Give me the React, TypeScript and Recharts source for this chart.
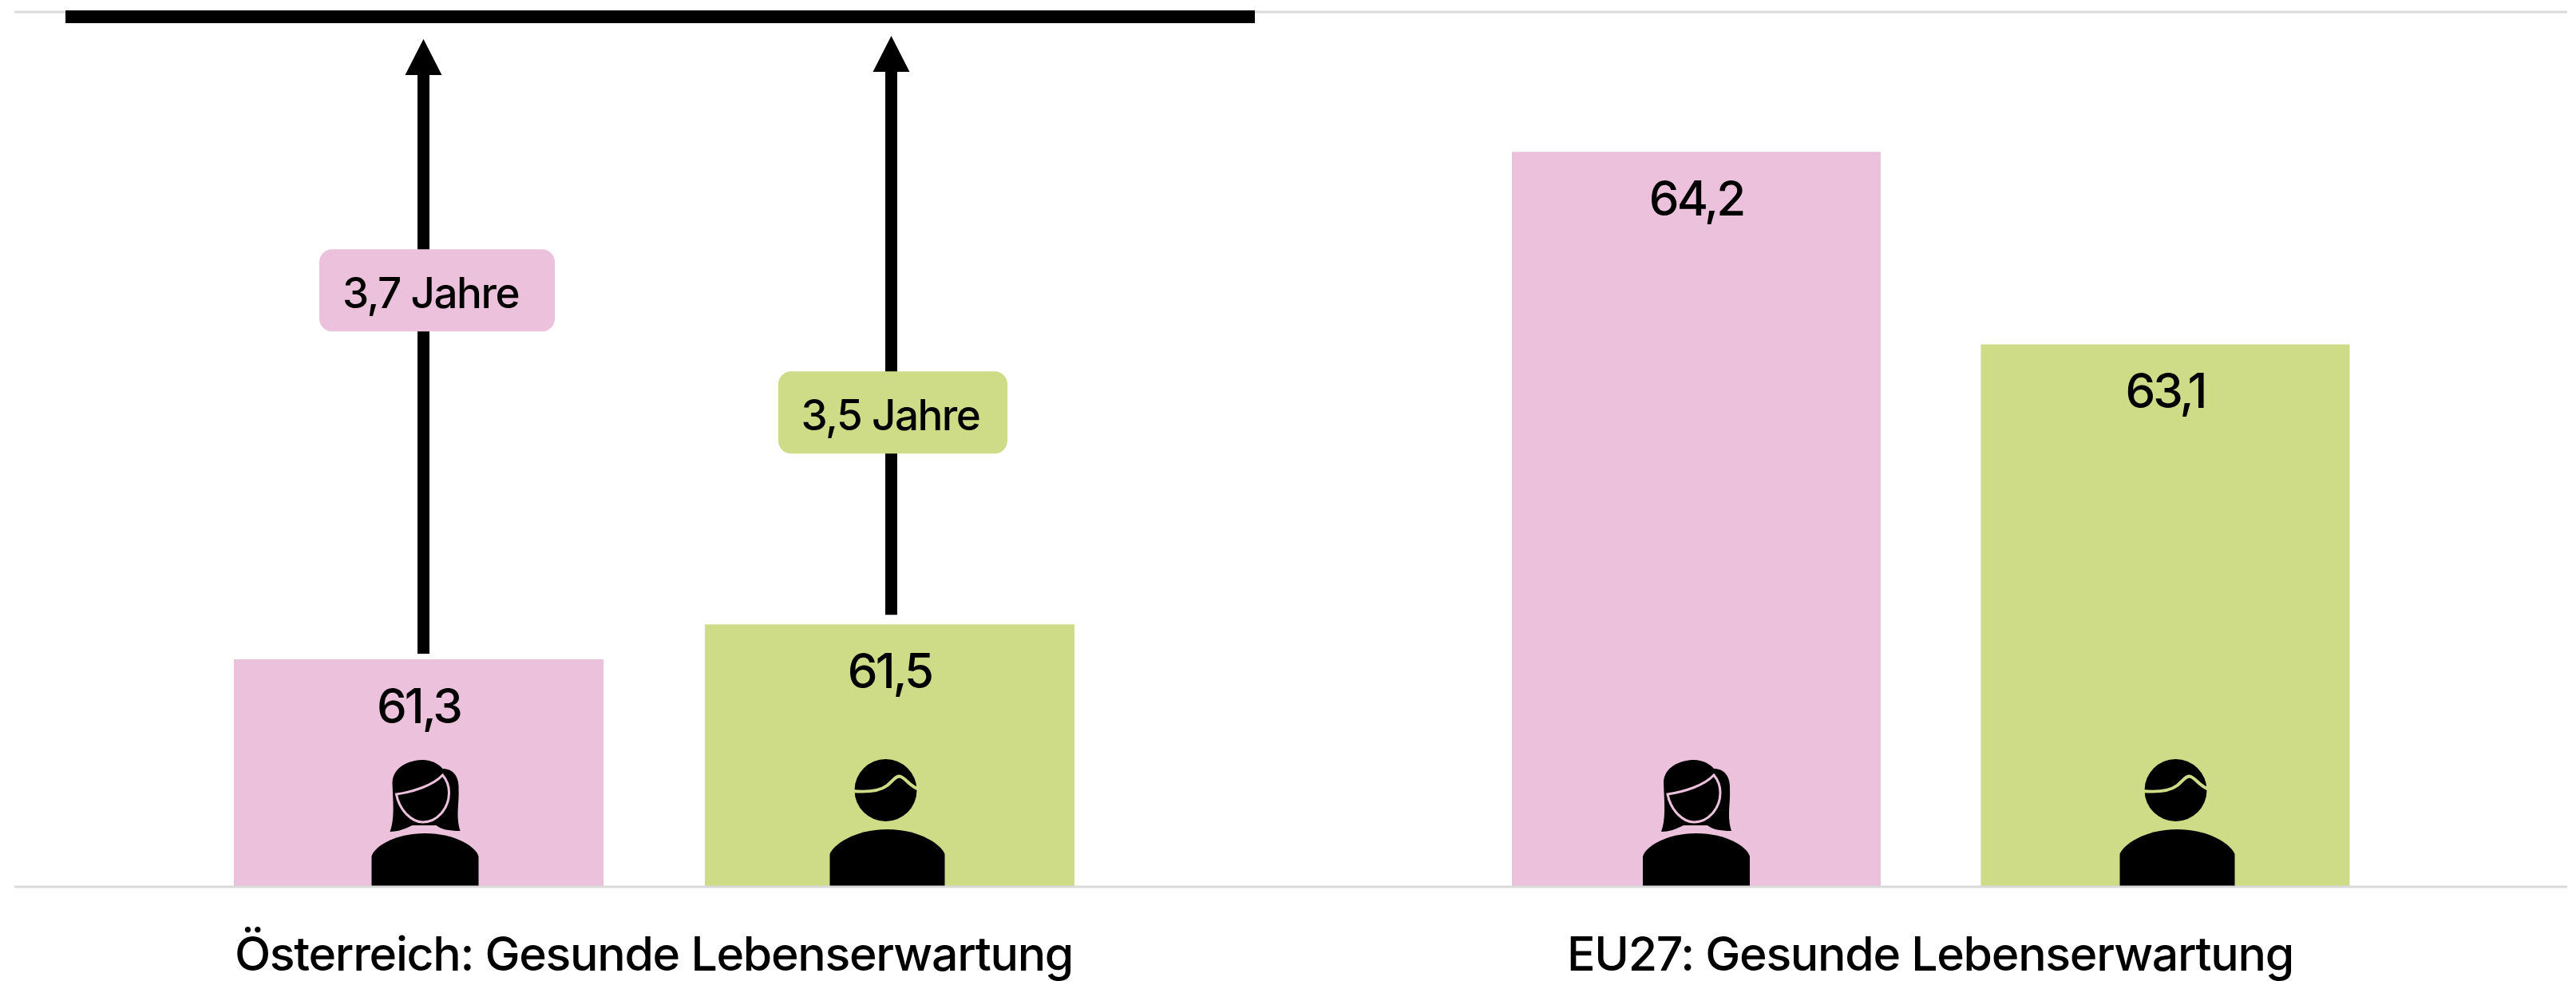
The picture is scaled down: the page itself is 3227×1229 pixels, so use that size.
import { BarChart, Bar, XAxis, YAxis, ReferenceLine, LabelList, Label, Rectangle } from 'recharts';

const austriaGroups = ['Frauen', 'Männer'];
const austriaValues = [61.3, 61.5];
const austriaGap = [3.7, 3.5];
const austriaGapLabels = ['3,7 Jahre', '3,5 Jahre'];
const euGroups = ['Frauen', 'Männer'];
const euValues = [64.2, 63.1];
const yDomain = [60, 65];
const TARGET = 65;

const PINK = '#EBC1DC';
const GREEN = '#CEDC88';
const GRID = '#DADADA';
const FONT = 'Inter, sans-serif';
const BAR_COLORS = [PINK, GREEN];

// icons and arrows are not quite centred on the bars in the original
const AUSTRIA_ICON_SHIFT = [8, -3];
const EU_ICON_SHIFT = [0, 15];
const ARROW_SHIFT = [6, 2];
const PILL_SHIFT = [23, 4];
const PILL_TEXT_SHIFT = [-8, -3];
const PILL_AT = [0.43, 0.654];
const PILL_SIZE = [[295, 103], [287, 103]];
const ARROW_TIP = [34, 30];
const ARROW_FOOT = [7, 12];

const austriaData = austriaGroups.map((group, i) => ({
  group,
  value: austriaValues[i],
  gap: austriaGap[i],
}));
const euData = euGroups.map((group, i) => ({ group, value: euValues[i] }));

const fmt = (v: any) => String(v).replace('.', ',');

function Woman({ x, y, line }: { x: number; y: number; line: string }) {
  return (
    <g transform={`translate(${x},${y})`}>
      <path d="M-67 0V-38C-64-50-38-67 0-67C38-67 64-50 67-38V0Z" fill="#000" />
      <path
        d="M-44-69C-38-85-40-105-41-130C-41-150-20-159-3-159C8-159 17-154 22-148C35-148 43-138 42-122C43-105 38-88 44-70C30-70 20-72 14-77H-16C-26-72-34-69-44-69Z"
        fill="#000"
      />
      <path
        d="M-36-116C-32-95-16-81-3-81C15-81 30-98 30-118C30-128 27-134 22-140C10-127-15-119-36-116Z"
        fill="#000"
        stroke={line}
        strokeWidth={3}
      />
    </g>
  );
}

function Man({ x, y, line }: { x: number; y: number; line: string }) {
  return (
    <g transform={`translate(${x},${y})`}>
      <path d="M-72 0V-41C-68-52-42-72 0-72C42-72 68-52 72-41V0Z" fill="#000" />
      <circle cx={-2} cy={-121} r={39} fill="#000" />
      <path
        d="M-44-120C-22-118-8-121 0-127C8-134 12-140 17-138C24-135 28-126 40-122"
        fill="none"
        stroke={line}
        strokeWidth={4}
      />
    </g>
  );
}

function makeBarShape(shifts: number[]) {
  return function BarShape(props: any) {
    const { x, y, width, height, index } = props;
    const Icon = index === 0 ? Woman : Man;
    return (
      <g>
        <Rectangle x={x} y={y} width={width} height={height} fill={BAR_COLORS[index]} />
        <Icon x={x + width / 2 + shifts[index]} y={y + height} line={BAR_COLORS[index]} />
      </g>
    );
  };
}

function GapShape(props: any) {
  const { x, y, width, height, index } = props;
  const cx = x + width / 2 + ARROW_SHIFT[index];
  const tip = y + ARROW_TIP[index];
  const foot = y + height - ARROW_FOOT[index];
  const [pw, ph] = PILL_SIZE[index];
  const pillX = x + width / 2 + PILL_SHIFT[index] - pw / 2;
  const pillY = y + height * PILL_AT[index] - ph / 2;
  return (
    <g>
      <path d={`M${cx - 7.5} ${foot}V${tip + 45}H${cx - 23}L${cx} ${tip}L${cx + 23} ${tip + 45}H${cx + 7.5}V${foot}Z`} fill="#000" />
      <rect x={pillX} y={pillY} width={pw} height={ph} rx={16} fill={BAR_COLORS[index]} />
      <text
        x={pillX + pw / 2 + PILL_TEXT_SHIFT[index]}
        y={pillY + ph / 2 + 3}
        textAnchor="middle"
        dominantBaseline="central"
        fontFamily={FONT}
        fontWeight={500}
        letterSpacing={-1.5}
        fontSize={53}
        fill="#000"
      >
        {austriaGapLabels[index]}
      </text>
    </g>
  );
}

function TargetLine(props: any) {
  const { x1, x2, y1 } = props;
  return <line x1={x1 + 64} x2={x2 - 48} y1={y1 + 6} y2={y1 + 6} stroke="#000" strokeWidth={16} />;
}

const labelStyle = { fontFamily: FONT, fontSize: 59, fontWeight: 500, letterSpacing: -1.3, fill: '#000' };
const valueStyle = { fontFamily: FONT, fontSize: 60, fontWeight: 500, letterSpacing: -3, fill: '#000' };

export default function App() {
  return (
    <div style={{ position: 'absolute', left: 0, top: 0, width: 3227, height: 1229, background: '#fff' }}>
      <div style={{ position: 'absolute', left: 0, top: 0 }}>
        <BarChart width={1620} height={1229} data={austriaData} margin={{ top: 15, right: 0, bottom: 0, left: 18 }}>
          <XAxis
            dataKey="group"
            padding={{ left: 211, right: 211 }}
            height={118}
            tick={false}
            tickLine={false}
            axisLine={false}
          >
            <Label value="Österreich: Gesunde Lebenserwartung" position="insideBottom" offset={13} style={labelStyle} />
          </XAxis>
          <YAxis hide domain={yDomain} allowDataOverflow />
          <ReferenceLine y={60} stroke={GRID} strokeWidth={3} />
          <ReferenceLine y={TARGET} stroke={GRID} strokeWidth={3} />
          <Bar dataKey="value" stackId="a" barSize={463} isAnimationActive={false} shape={makeBarShape(AUSTRIA_ICON_SHIFT)}>
            <LabelList dataKey="value" position="insideTop" offset={37} formatter={fmt} style={valueStyle} />
          </Bar>
          <Bar dataKey="gap" stackId="a" barSize={463} isAnimationActive={false} shape={GapShape} />
          <ReferenceLine y={TARGET} shape={TargetLine} />
        </BarChart>
      </div>
      <div style={{ position: 'absolute', left: 1620, top: 0 }}>
        <BarChart width={1607} height={1229} data={euData} margin={{ top: 15, right: 11, bottom: 0, left: 0 }}>
          <XAxis
            dataKey="group"
            padding={{ left: 211, right: 210 }}
            height={118}
            tick={false}
            tickLine={false}
            axisLine={false}
          >
            <Label value="EU27: Gesunde Lebenserwartung" position="insideBottom" offset={13} style={labelStyle} />
          </XAxis>
          <YAxis hide domain={yDomain} allowDataOverflow />
          <ReferenceLine y={60} stroke={GRID} strokeWidth={3} />
          <ReferenceLine y={TARGET} stroke={GRID} strokeWidth={3} />
          <Bar dataKey="value" barSize={462} isAnimationActive={false} shape={makeBarShape(EU_ICON_SHIFT)}>
            <LabelList dataKey="value" position="insideTop" offset={37} formatter={fmt} style={valueStyle} />
          </Bar>
        </BarChart>
      </div>
    </div>
  );
}
